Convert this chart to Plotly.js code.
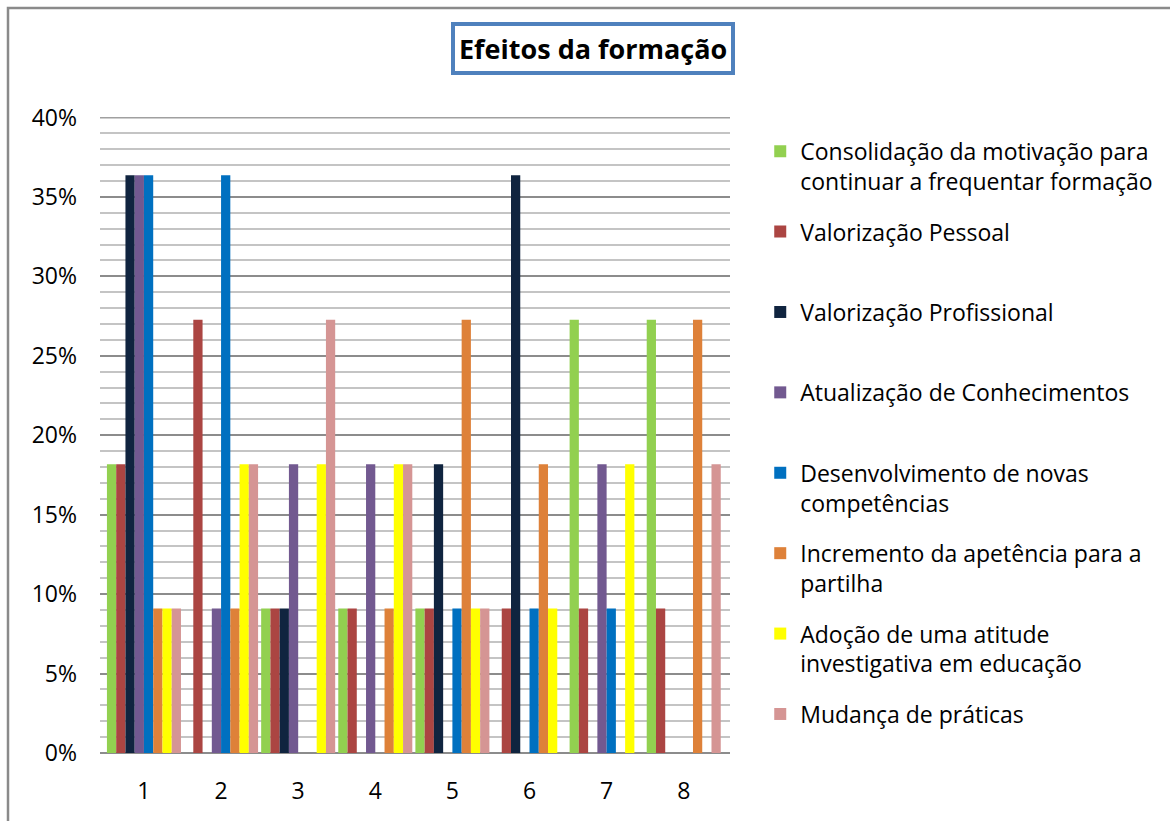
<!DOCTYPE html>
<html>
<head>
<meta charset="utf-8">
<script src="https://cdn.plot.ly/plotly-3.0.1.min.js"></script>
<style>
  html, body { margin: 0; padding: 0; background: #ffffff; }
  #chart { width: 1170px; height: 821px; }
</style>
</head>
<body>
<div id="chart"></div>
<script>
// Categories (x-axis)
const categories = ['1', '2', '3', '4', '5', '6', '7', '8'];

// Series names
const seriesNames = [
  'Consolidação da motivação para<br>continuar a frequentar formação',
  'Valorização Pessoal',
  'Valorização Profissional',
  'Atualização de Conhecimentos',
  'Desenvolvimento de novas<br>competências',
  'Incremento da apetência para a<br>partilha',
  'Adoção de uma atitude<br>investigativa em educação',
  'Mudança de práticas'
];

// Series values (fractions)
const consolidacao   = [0.1818, 0,      0.0909, 0.0909, 0.0909, 0,      0.2727, 0.2727];
const valPessoal     = [0.1818, 0.2727, 0.0909, 0.0909, 0.0909, 0.0909, 0.0909, 0.0909];
const valProfissional= [0.3636, 0,      0.0909, 0,      0.1818, 0.3636, 0,      0];
const atualizacao    = [0.3636, 0.0909, 0.1818, 0.1818, 0,      0,      0.1818, 0];
const desenvolvimento= [0.3636, 0.3636, 0,      0,      0.0909, 0.0909, 0.0909, 0];
const incremento     = [0.0909, 0.0909, 0,      0.0909, 0.2727, 0.1818, 0,      0.2727];
const adocao         = [0.0909, 0.1818, 0.1818, 0.1818, 0.0909, 0.0909, 0.1818, 0];
const mudanca        = [0.0909, 0.1818, 0.2727, 0.1818, 0.0909, 0,      0,      0.1818];

const seriesValues = [consolidacao, valPessoal, valProfissional, atualizacao,
                      desenvolvimento, incremento, adocao, mudanca];
const seriesColors = ['#92D050', '#AB4542', '#10243F', '#725990',
                      '#0070C0', '#DE8139', '#FFFF00', '#D59594'];

// Y tick labels
const yTickVals = [0, 0.05, 0.10, 0.15, 0.20, 0.25, 0.30, 0.35, 0.40];
const yTickText = ['0%', '5%', '10%', '15%', '20%', '25%', '30%', '35%', '40%'];

const FONT = 'Open Sans, Liberation Sans, sans-serif';

const traces = seriesNames.map((name, i) => ({
  type: 'bar',
  name: name.indexOf('<br>') >= 0 ? name : name + '<br>&nbsp;',
  x: categories,
  y: seriesValues[i],
  legendgroup: 'g' + i,
  marker: { color: seriesColors[i], line: { width: 0 } },
  hoverinfo: 'x+y'
}));

const layout = {
  width: 1170,
  height: 821,
  paper_bgcolor: '#ffffff',
  plot_bgcolor: '#ffffff',
  font: { family: FONT, size: 23, color: '#000000' },
  margin: { l: 100, r: 440, t: 117, b: 68, pad: 0 },
  barmode: 'group',
  bargap: 0.04,
  bargroupgap: 0,
  showlegend: true,
  legend: {
    x: 1.048, xanchor: 'left',
    y: 0.98, yanchor: 'top',
    valign: 'top',
    tracegroupgap: 17.6,
    itemwidth: 30,
    font: { family: FONT, size: 23, color: '#000000' },
    bgcolor: 'rgba(0,0,0,0)'
  },
  xaxis: {
    type: 'category',
    range: [-0.57, 7.6],
    showgrid: false,
    showline: false,
    zeroline: false,
    ticks: '',
    ticklabelstandoff: 22,
    tickfont: { family: FONT, size: 23, color: '#000000' },
    fixedrange: true
  },
  yaxis: {
    range: [0, 0.4003],
    tickvals: yTickVals,
    ticktext: yTickText,
    showgrid: true,
    gridcolor: '#8C8C8C',
    gridwidth: 2,
    minor: { dtick: 0.01, showgrid: true, gridcolor: '#C4C4C4', gridwidth: 2 },
    zeroline: true,
    zerolinecolor: '#8C8C8C',
    zerolinewidth: 2,
    showline: false,
    ticks: '',
    ticklabelstandoff: 22,
    tickfont: { family: FONT, size: 23, color: '#000000' },
    fixedrange: true
  },
  shapes: [
    {
      type: 'rect', xref: 'paper', yref: 'paper',
      x0: (8 - 100) / 630, x1: (1185 - 100) / 630,
      y0: (753 - 840) / 636, y1: (753 - 8) / 636,
      line: { color: '#8A8A8A', width: 2.5 }, fillcolor: 'rgba(0,0,0,0)', layer: 'below'
    },
    {
      type: 'line', xref: 'paper', yref: 'y',
      x0: 0, x1: 1, y0: 0.40, y1: 0.40,
      line: { color: '#A0A0A0', width: 2 }, layer: 'below'
    }
  ],
  annotations: [
    {
      text: '<b>Efeitos da formação</b>',
      xref: 'paper', yref: 'paper',
      x: (593 - 100) / 630, y: (753 - 48) / 636,
      xanchor: 'center', yanchor: 'middle',
      showarrow: false,
      font: { family: FONT, size: 27, color: '#000000' },
      bgcolor: '#ffffff',
      bordercolor: '#4F81BD',
      borderwidth: 4,
      borderpad: 4
    }
  ]
};

Plotly.newPlot('chart', traces, layout, { displayModeBar: false, staticPlot: true });
</script>
</body>
</html>
